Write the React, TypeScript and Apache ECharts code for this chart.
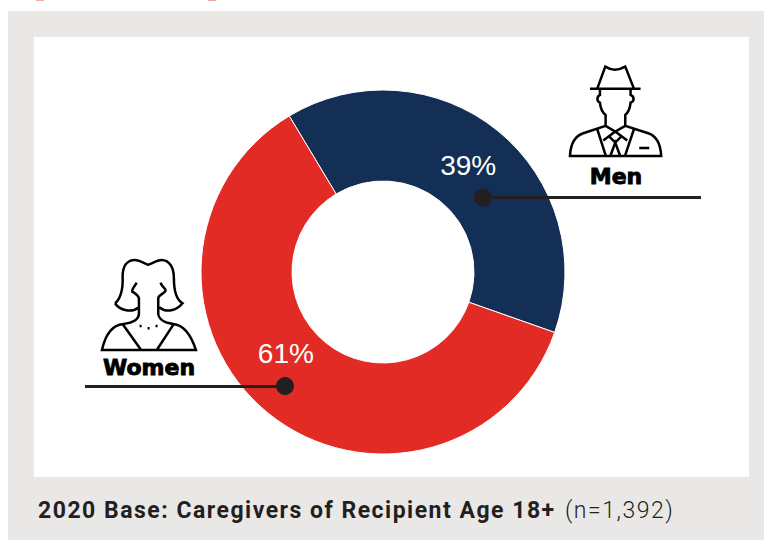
import React, { useEffect, useRef } from "react";
import * as echarts from "echarts";

const categories = ["Men", "Women"];
const shares = [39, 61];
const baseBold = "2020 Base: Caregivers of Recipient Age 18+";
const baseLight = "(n=1,392)";

const MAN_D =
  "M150 116L302 116M172 116L196 50C215 62 235 62 256 50L282 116" +
  "M180 118L180 135C170 140 170 155 180 158C182 180 190 190 197 195L197 228" +
  "M272 118L272 135C284 140 284 155 272 158C270 180 262 190 256 195L256 228" +
  "M90 318C92 280 105 258 130 250L197 228L226 245L256 228L325 250C350 258 362 285 364 318Z" +
  "M172 238L197 316M282 238L256 316M226 245L190 272M226 245L262 272" +
  "M212 316L226 278L240 316M206 258L226 278L246 258M298 294L328 294";
const WOMAN_D =
  "M135 160C150 150 160 120 158 80C158 50 170 30 195 30C210 30 225 42 235 44C245 42 260 30 275 30C300 30 312 55 312 85C312 120 320 150 338 160C320 182 290 190 268 172" +
  "M135 160C150 182 185 190 207 172" +
  "M200 98C195 110 185 115 187 125C195 130 205 135 207 145L207 190C207 205 195 218 160 222C125 225 105 260 96 300L378 300C365 260 345 225 310 222C280 218 265 205 265 190L265 145C265 135 285 130 287 122C288 115 275 110 272 98" +
  "M160 225L212 298M310 225L262 298" +
  "M209 228L215 228M233 235L239 235M257 228L263 228";

echarts.graphic.registerShape("manIcon", echarts.graphic.extendPath(MAN_D, {}));
echarts.graphic.registerShape("womanIcon", echarts.graphic.extendPath(WOMAN_D, {}));

const INK = "#231f20";

export default function App() {
  const ref = useRef<HTMLDivElement>(null);
  useEffect(() => {
    const chart = echarts.init(ref.current!, null, { renderer: "svg" });
    chart.setOption({
      animation: false,
      backgroundColor: "#ffffff",
      graphic: [
        { type: "rect", z: -10, shape: { x: 8, y: 11, width: 756, height: 529 }, style: { fill: "#e9e8e6" } },
        { type: "rect", z: -9, shape: { x: 34, y: 37, width: 715, height: 440 }, style: { fill: "#ffffff" } },
        { type: "rect", shape: { x: 36, y: 0, width: 8, height: 1 }, style: { fill: "#f5a5a2" } },
        { type: "rect", shape: { x: 208, y: 0, width: 8, height: 1 }, style: { fill: "#f5a5a2" } },
        { type: "line", z: 20, shape: { x1: 483, y1: 197.5, x2: 701, y2: 197.5 }, style: { stroke: INK, lineWidth: 3 } },
        { type: "circle", z: 21, shape: { cx: 483, cy: 197.5, r: 9 }, style: { fill: INK } },
        { type: "line", z: 20, shape: { x1: 85, y1: 386.5, x2: 285, y2: 386.5 }, style: { stroke: INK, lineWidth: 3 } },
        { type: "circle", z: 21, shape: { cx: 285, cy: 386, r: 9 }, style: { fill: INK } },
        { type: "manIcon", z: 20, x: 540, y: 50, scaleX: 1 / 3, scaleY: 1 / 3, style: { fill: "none", stroke: "#000", lineWidth: 7.5 } },
        { type: "womanIcon", z: 20, x: 70, y: 250, scaleX: 1 / 3, scaleY: 1 / 3, style: { fill: "none", stroke: "#000", lineWidth: 7.5 } },
        { type: "text", z: 20, x: 616, y: 176, style: { text: categories[0], font: "bold 22px 'DejaVu Sans'", fill: "#000", stroke: "#000", lineWidth: 0.9, align: "center", verticalAlign: "middle" } },
        { type: "text", z: 20, x: 149, y: 367, style: { text: categories[1], font: "bold 22px 'DejaVu Sans'", fill: "#000", stroke: "#000", lineWidth: 0.9, align: "center", verticalAlign: "middle" } },
        { type: "text", x: 38, y: 510, style: { text: baseBold, font: "700 23px Roboto", fill: INK, align: "left", verticalAlign: "middle" } },
        { type: "text", x: 565, y: 510, style: { text: baseLight, font: "300 23px Roboto", fill: INK, align: "left", verticalAlign: "middle" } },
      ],
      series: [
        {
          type: "pie",
          silent: true,
          center: [383, 272],
          radius: [91, 182],
          startAngle: 121,
          clockwise: true,
          itemStyle: { borderColor: "#ffffff", borderWidth: 1 },
          label: {
            show: true,
            position: "inside",
            formatter: "{c}%",
            color: "#ffffff",
            fontFamily: "'Liberation Sans'",
            fontSize: 28,
          },
          labelLine: { show: false },
          data: [
            { name: categories[0], value: shares[0], itemStyle: { color: "#142f56" }, label: { offset: [-3, 2] } },
            { name: categories[1], value: shares[1], itemStyle: { color: "#e32b26" }, label: { offset: [-9, -27] } },
          ],
        },
      ],
    });
    // The reference's caption is tracked out; zrender has no letter-spacing option.
    ref.current!.querySelectorAll("text").forEach((t) => {
      if (t.textContent === baseBold || t.textContent === baseLight) {
        (t as SVGTextElement).style.letterSpacing = "1.5px";
      }
    });
    return () => chart.dispose();
  }, []);
  return <div ref={ref} style={{ position: "fixed", left: 0, top: 0, width: 764, height: 540 }} />;
}
